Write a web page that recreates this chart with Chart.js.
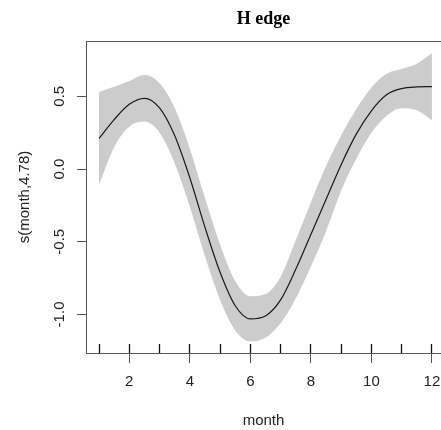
<!DOCTYPE html>
<html>
<head>
<meta charset="utf-8">
<title>H edge</title>
<script src="https://cdn.jsdelivr.net/npm/chart.js@4/dist/chart.umd.min.js"></script>
<style>
  html, body { margin: 0; padding: 0; background: #fff; overflow: hidden; }
  .chart__wrapper { width: 441px; height: 430px; }
</style>
</head>
<body>
<div class="chart__wrapper"><canvas id="gam-chart" width="441" height="430"></canvas></div>
<script>
  // smooth term s(month), every half month
  const months = [1, 1.5, 2, 2.5, 3, 3.5, 4, 4.5, 5, 5.5, 6, 6.5, 7, 7.5, 8, 8.5, 9, 9.5, 10, 10.5, 11, 11.5, 12];
  const fitValues = [0.21, 0.34, 0.445, 0.486, 0.42, 0.23, -0.06, -0.4, -0.71, -0.94, -1.03, -1.01, -0.9, -0.69, -0.45, -0.21, 0.03, 0.24, 0.4, 0.51, 0.553, 0.564, 0.566];
  const upperValues = [0.53, 0.565, 0.605, 0.646, 0.59, 0.42, 0.14, -0.2, -0.52, -0.77, -0.875, -0.86, -0.74, -0.49, -0.23, 0.02, 0.23, 0.41, 0.56, 0.655, 0.688, 0.724, 0.796];
  const lowerValues = [-0.11, 0.15, 0.29, 0.326, 0.25, 0.04, -0.26, -0.6, -0.9, -1.11, -1.185, -1.16, -1.06, -0.89, -0.67, -0.43, -0.15, 0.07, 0.25, 0.365, 0.418, 0.404, 0.336];

  // rug: observed months
  const rugMonths = [1, 2, 3, 4, 5, 6, 7, 8, 9, 10, 11, 12];

  const xTicks = [2, 4, 6, 8, 10, 12];
  const yTicks = [-1, -0.5, 0, 0.5];

  const xMin = 0.57;
  const xMax = 12.3;
  const yMin = -1.265;
  const yMax = 0.88;

  const toPoints = (values) => months.map((m, i) => ({ x: m, y: values[i] }));

  // box round the plot region, like R's box()
  const frame = {
    id: "frame",
    afterDraw(chart) {
      const { ctx, chartArea: a } = chart;
      ctx.save();
      ctx.strokeStyle = "#555";
      ctx.lineWidth = 1;
      ctx.strokeRect(a.left + 0.5, a.top + 0.5, a.right - a.left, a.bottom - a.top);
      ctx.restore();
    },
  };

  Chart.defaults.font.family = "'Liberation Sans', Arial, sans-serif";
  Chart.defaults.font.size = 15;
  Chart.defaults.color = "#222";

  new Chart(document.getElementById("gam-chart").getContext("2d"), {
    type: "line",
    data: {
      datasets: [
        {
          label: "s(month)",
          data: toPoints(fitValues),
          borderColor: "#1a1a1a",
          borderWidth: 1.2,
          pointRadius: 0,
          fill: false,
          cubicInterpolationMode: "monotone",
        },
        {
          label: "upper",
          data: toPoints(upperValues),
          borderWidth: 0,
          pointRadius: 0,
          backgroundColor: "#cccccc",
          fill: "+1",
          cubicInterpolationMode: "monotone",
        },
        {
          label: "lower",
          data: toPoints(lowerValues),
          borderWidth: 0,
          pointRadius: 0,
          fill: false,
          cubicInterpolationMode: "monotone",
        },
      ],
    },
    options: {
      responsive: false,
      animation: false,
      devicePixelRatio: 1,
      layout: { padding: 0 },
      scales: {
        x: {
          type: "linear",
          position: "bottom",
          weight: 1,
          min: xMin,
          max: xMax,
          afterBuildTicks: (s) => { s.ticks = xTicks.map((v) => ({ value: v })); },
          afterFit: (s) => { s.height = 77; s.paddingLeft = 0; s.paddingRight = 0; },
          grid: { drawOnChartArea: false, tickLength: 10, tickColor: "#555", tickWidth: 1 },
          border: { display: true, color: "#222", width: 1 },
          ticks: { padding: 10, callback: (v) => String(v) },
          title: { display: true, text: "month", padding: { top: 0, bottom: 0 } },
        },
        rug: {
          type: "linear",
          position: "bottom",
          weight: 0,
          min: xMin,
          max: xMax,
          afterBuildTicks: (s) => { s.ticks = rugMonths.map((v) => ({ value: v })); },
          afterFit: (s) => { s.height = 0; s.paddingLeft = 0; s.paddingRight = 0; },
          grid: { drawOnChartArea: false, tickLength: -9, tickColor: "#111", tickWidth: 1.3 },
          border: { display: false },
          ticks: { display: false },
        },
        y: {
          type: "linear",
          position: "left",
          min: yMin,
          max: yMax,
          afterBuildTicks: (s) => { s.ticks = yTicks.map((v) => ({ value: v })); },
          afterFit: (s) => { s.width = 86; },
          grid: { drawOnChartArea: false, tickLength: 9, tickColor: "#555", tickWidth: 1 },
          border: { display: true, color: "#222", width: 1 },
          ticks: {
            minRotation: 90,
            maxRotation: 90,
            crossAlign: "center",
            padding: 4,
            callback: (v) => v.toFixed(1),
          },
          title: { display: true, text: "s(month,4.78)", padding: { top: 16, bottom: 0 } },
        },
      },
      plugins: {
        legend: { display: false },
        tooltip: { enabled: false },
        title: {
          display: true,
          text: "H edge",
          fullSize: false,
          color: "#000",
          font: { family: "'Liberation Serif', 'Times New Roman', serif", size: 18, weight: "bold" },
          padding: { top: 9, bottom: 10.4 },
        },
      },
    },
    plugins: [frame],
  });
</script>
</body>
</html>
